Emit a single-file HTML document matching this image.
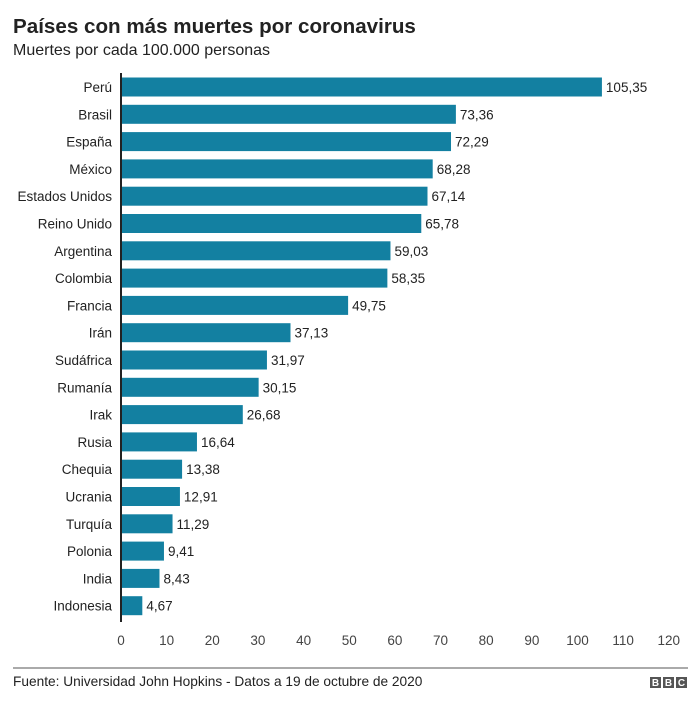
<!DOCTYPE html>
<html><head><meta charset="utf-8"><style>
body{margin:0;background:#fff;width:700px;height:706px;overflow:hidden}
svg{display:block;font-family:"Liberation Sans",Arial,sans-serif}
</style></head><body>
<svg width="700" height="706" xmlns="http://www.w3.org/2000/svg">
<text x="13" y="33" font-size="20.6" font-weight="bold" fill="#222">Países con más muertes por coronavirus</text>
<text x="13" y="55" font-size="16" fill="#222">Muertes por cada 100.000 personas</text>
<g id="bars" font-size="13.5" fill="#222"></g>
<line x1="121" y1="73" x2="121" y2="622" stroke="#222" stroke-width="2"/>
<g font-size="13.5" fill="#444" text-anchor="middle" id="ticks"></g>
<line x1="13" y1="668" x2="688" y2="668" stroke="#555" stroke-width="1"/>
<text x="13" y="686" font-size="13.7" fill="#222">Fuente: Universidad John Hopkins - Datos a 19 de octubre de 2020</text>
<g font-size="10" font-weight="bold" fill="#fff" text-anchor="middle">
<rect x="650" y="677" width="11" height="11" fill="#555"/><text x="655.5" y="686">B</text>
<rect x="663" y="677" width="11" height="11" fill="#555"/><text x="668.5" y="686">B</text>
<rect x="676" y="677" width="11" height="11" fill="#555"/><text x="681.5" y="686">C</text>
</g>
</svg>
<script>
var d=[["Perú",105.35],["Brasil",73.36],["España",72.29],["México",68.28],["Estados Unidos",67.14],["Reino Unido",65.78],["Argentina",59.03],["Colombia",58.35],["Francia",49.75],["Irán",37.13],["Sudáfrica",31.97],["Rumanía",30.15],["Irak",26.68],["Rusia",16.64],["Chequia",13.38],["Ucrania",12.91],["Turquía",11.29],["Polonia",9.41],["India",8.43],["Indonesia",4.67]];
var ns="http://www.w3.org/2000/svg",g=document.getElementById("bars"),s=4.565,x0=121;
function el(t,a,txt,p){var e=document.createElementNS(ns,t);for(var k in a)e.setAttribute(k,a[k]);if(txt!=null)e.textContent=txt;p.appendChild(e);}
d.forEach(function(r,i){var c=87+i*27.3,w=r[1]*s;
el("rect",{x:x0,y:c-9.5,width:w,height:19,fill:"#1380a1"},null,g);
el("text",{x:112,y:c+5,"text-anchor":"end"},r[0],g);
el("text",{x:x0+w+4,y:c+5},r[1].toFixed(2).replace(".",","),g);});
var t=document.getElementById("ticks");
for(var v=0;v<=120;v+=10)el("text",{x:x0+v*s,y:645},v,t);
</script>
</body></html>
